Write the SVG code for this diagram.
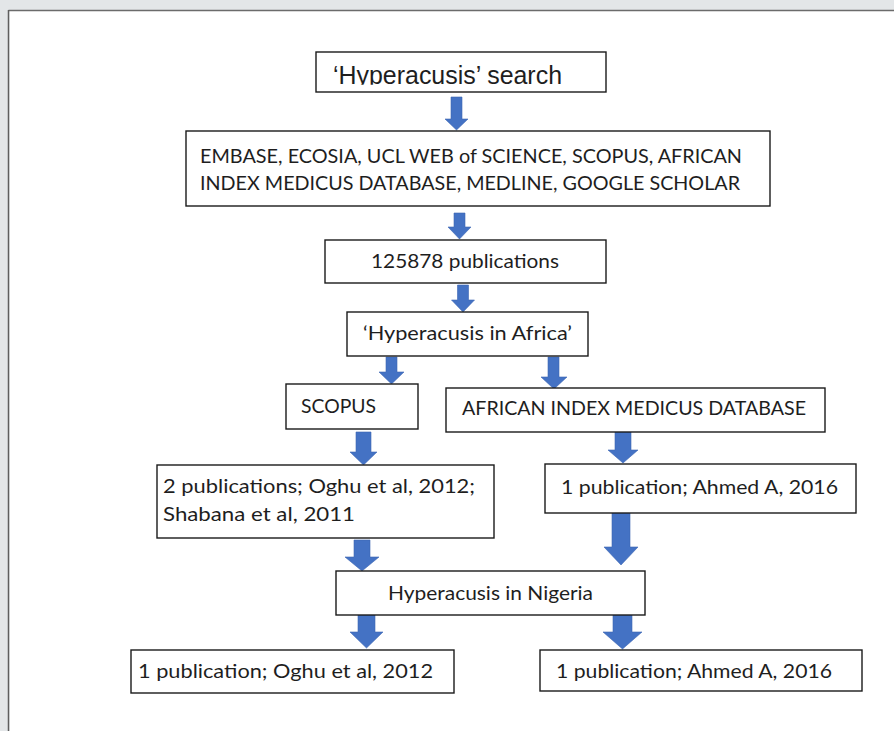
<svg xmlns="http://www.w3.org/2000/svg" width="894" height="731" viewBox="0 0 894 731">
<defs>
<style>
.box{fill:#ffffff;stroke:#1a1a1a;stroke-width:1.4}
.t{font-family:Lato,"Open Sans","Liberation Sans",sans-serif;font-size:19px;fill:#1e1e1e}
.ta{font-family:"Liberation Sans",Arial,sans-serif;font-size:25px;fill:#1e1e1e}
.arr{fill:#4472c4;stroke:#3d67b3;stroke-width:0.6}
</style>
<clipPath id="clipTop"><rect x="316" y="52" width="290" height="32.8"/></clipPath>
</defs>
<rect x="0" y="0" width="894" height="731" fill="#e3e6e8"/>
<rect x="9.5" y="11" width="884.5" height="720" fill="#ffffff"/>
<line x1="8.5" y1="10.5" x2="894" y2="10.5" stroke="#6b6b6b" stroke-width="1.5"/>
<line x1="8.5" y1="10" x2="8.5" y2="731" stroke="#5e5e5e" stroke-width="1.5"/>

<g id="connectors">
<path class="arr" d="M451,97 H462 V119 H468 L456.5,130 L445,119 H451 Z"/>
<path class="arr" d="M454,213 H465 V227 H471 L459.5,239 L448,227 H454 Z"/>
<path class="arr" d="M457.5,285 H468.5 V300 H474.5 L463,312 L451.5,300 H457.5 Z"/>
<path class="arr" d="M386,357 H397 V372 H404 L391.5,384 L379,372 H386 Z"/>
<path class="arr" d="M548,357 H559 V377 H567 L554,389 L541,377 H548 Z"/>
<path class="arr" d="M356,432 H371 V452 H377 L363.5,465 L350,452 H356 Z"/>
<path class="arr" d="M615,432 H631 V450 H638 L623,463 L608,450 H615 Z"/>
<path class="arr" d="M354,540 H370 V557 H379 L362,571 L345,557 H354 Z"/>
<path class="arr" d="M612,513 H630 V547 H638 L621,565 L604,547 H612 Z"/>
<path class="arr" d="M358,615 H375 V632 H383 L366.5,648 L350,632 H358 Z"/>
<path class="arr" d="M613,613 H632 V632 H642 L622.5,649 L603,632 H613 Z"/>
</g>

<g id="n1">
<rect class="box" x="316" y="52" width="290" height="40"/>
<text class="ta" x="333" y="84" textLength="229" lengthAdjust="spacingAndGlyphs" clip-path="url(#clipTop)">‘Hyperacusis’ search</text>
</g>
<g id="n2">
<rect class="box" x="186" y="131" width="584" height="75"/>
<text class="t" x="200" y="163" textLength="542" lengthAdjust="spacingAndGlyphs">EMBASE, ECOSIA, UCL WEB of SCIENCE, SCOPUS, AFRICAN</text>
<text class="t" x="200" y="190" textLength="540" lengthAdjust="spacingAndGlyphs">INDEX MEDICUS DATABASE, MEDLINE, GOOGLE SCHOLAR</text>
</g>
<g id="n3">
<rect class="box" x="325" y="240" width="281" height="43"/>
<text class="t" x="371" y="268" textLength="188" lengthAdjust="spacingAndGlyphs">125878 publications</text>
</g>
<g id="n4">
<rect class="box" x="347" y="312" width="241" height="44"/>
<text class="t" x="363" y="340" textLength="209" lengthAdjust="spacingAndGlyphs">‘Hyperacusis in Africa’</text>
</g>
<g id="n5">
<rect class="box" x="286" y="384" width="132" height="45"/>
<text class="t" x="301" y="413" textLength="75" lengthAdjust="spacingAndGlyphs">SCOPUS</text>
</g>
<g id="n6">
<rect class="box" x="446" y="388" width="379" height="44"/>
<text class="t" x="462" y="415" textLength="344" lengthAdjust="spacingAndGlyphs">AFRICAN INDEX MEDICUS DATABASE</text>
</g>
<g id="n7">
<rect class="box" x="157" y="465" width="337" height="73"/>
<text class="t" x="163" y="493" textLength="312" lengthAdjust="spacingAndGlyphs">2 publications; Oghu et al, 2012;</text>
<text class="t" x="163" y="521" textLength="192" lengthAdjust="spacingAndGlyphs">Shabana et al, 2011</text>
</g>
<g id="n8">
<rect class="box" x="545" y="464" width="311" height="49"/>
<text class="t" x="561" y="494" textLength="277" lengthAdjust="spacingAndGlyphs">1 publication; Ahmed A, 2016</text>
</g>
<g id="n9">
<rect class="box" x="336" y="571" width="309" height="44"/>
<text class="t" x="388" y="600" textLength="205" lengthAdjust="spacingAndGlyphs">Hyperacusis in Nigeria</text>
</g>
<g id="n10">
<rect class="box" x="131" y="650" width="323" height="43"/>
<text class="t" x="138" y="678" textLength="295" lengthAdjust="spacingAndGlyphs">1 publication; Oghu et al, 2012</text>
</g>
<g id="n11">
<rect class="box" x="540" y="650" width="322" height="41"/>
<text class="t" x="556" y="678" textLength="276" lengthAdjust="spacingAndGlyphs">1 publication; Ahmed A, 2016</text>
</g>
</svg>
